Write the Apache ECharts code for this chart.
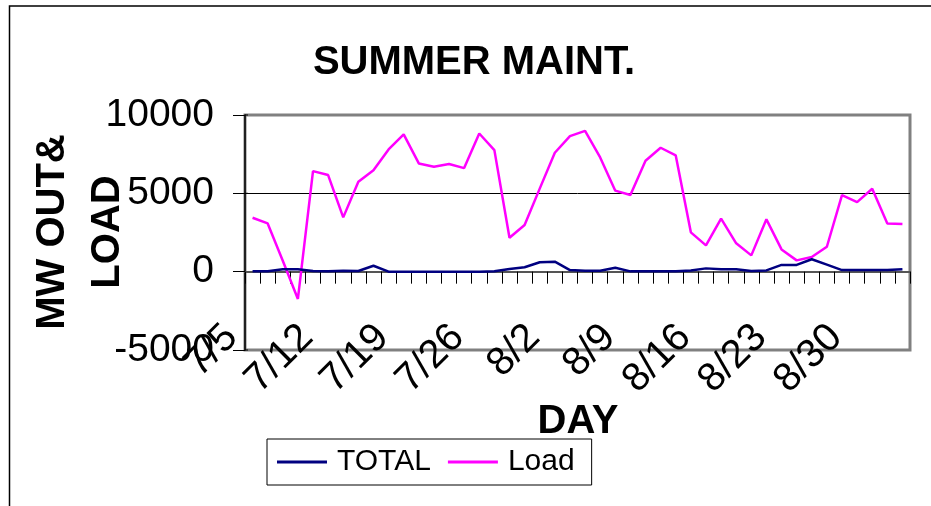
<!DOCTYPE html>
<html>
<head>
<meta charset="utf-8">
<script src="https://cdn.jsdelivr.net/npm/echarts@6/dist/echarts.min.js"></script>
<style>
  html, body { margin: 0; padding: 0; background: #fff; }
  #chart { width: 931px; height: 506px; }
</style>
</head>
<body>
<div id="chart"></div>
<script>
// weekdays, 7/5 .. 9/2
var days = [
  '7/5', '7/6', '7/7', '7/8', '7/9',
  '7/12', '7/13', '7/14', '7/15', '7/16',
  '7/19', '7/20', '7/21', '7/22', '7/23',
  '7/26', '7/27', '7/28', '7/29', '7/30',
  '8/2', '8/3', '8/4', '8/5', '8/6',
  '8/9', '8/10', '8/11', '8/12', '8/13',
  '8/16', '8/17', '8/18', '8/19', '8/20',
  '8/23', '8/24', '8/25', '8/26', '8/27',
  '8/30', '8/31', '9/1', '9/2'
];

var total = [
  20, 20, 150, 150, 40, 20, 60, 40, 380, 0,
  0, 0, 0, 0, 0, 0, 20, 170, 280, 600,
  640, 100, 60, 60, 250, 20, 20, 20, 20, 80,
  210, 150, 150, 40, 80, 430, 430, 790, 450, 100,
  100, 100, 100, 150
];

var load = [
  3440, 3080, 700, -1740, 6420, 6165, 3465, 5740, 6480, 7800,
  8760, 6910, 6700, 6870, 6610, 8820, 7760, 2170, 2980, 5300,
  7590, 8650, 8990, 7290, 5170, 4890, 7080, 7910, 7420, 2510,
  1680, 3380, 1810, 1040, 3340, 1420, 720, 935, 1590, 4890,
  4440, 5290, 3080, 3040
];

var yTicks = { min: -5000, max: 10000, step: 5000 };

var chart = echarts.init(document.getElementById('chart'));

var option = {
  animation: false,
  backgroundColor: '#fff',
  textStyle: { fontFamily: 'Liberation Sans, Arial, sans-serif' },
  graphic: [
    {
      type: 'rect', silent: true, z: 0,
      shape: { x: 9.5, y: 6, width: 1000, height: 600 },
      style: { fill: 'none', stroke: '#000', lineWidth: 1.5 }
    },
    {
      type: 'text', x: 474, y: 63,
      style: {
        text: 'SUMMER MAINT.', fill: '#000',
        font: 'bold 40px "Liberation Sans", Arial, sans-serif',
        align: 'center', verticalAlign: 'middle'
      }
    },
    {
      type: 'text', x: 80.5, y: 232, rotation: Math.PI / 2,
      style: {
        text: 'MW OUT&\nLOAD', fill: '#000', lineHeight: 55,
        font: 'bold 40px "Liberation Sans", Arial, sans-serif',
        align: 'center', verticalAlign: 'middle'
      }
    },
    {
      type: 'text', x: 578, y: 422,
      style: {
        text: 'DAY', fill: '#000',
        font: 'bold 40px "Liberation Sans", Arial, sans-serif',
        align: 'center', verticalAlign: 'middle'
      }
    },
    // y ticks in Excel cross the axis: the inner half
    {
      type: 'group',
      children: [115, 193.3, 271.7, 350].map(function (yy) {
        return {
          type: 'line', silent: true,
          shape: { x1: 245, y1: yy, x2: 248, y2: yy },
          style: { stroke: '#000', lineWidth: 1 }
        };
      })
    }
  ],
  legend: {
    left: 267, top: 439,
    orient: 'horizontal',
    icon: 'rect',
    itemWidth: 50,
    itemHeight: 3,
    itemGap: 17,
    padding: [8, 17, 8, 10],
    borderColor: '#000',
    borderWidth: 1,
    textStyle: { fontSize: 30, color: '#000', padding: [0, 0, 0, 5] },
    data: ['TOTAL', 'Load']
  },
  grid: {
    left: 245, right: 21, top: 115, bottom: 156,
    show: true,
    borderColor: '#808080',
    borderWidth: 3
  },
  xAxis: {
    type: 'category',
    data: days,
    boundaryGap: true,
    axisLine: { onZero: true, lineStyle: { color: '#555', width: 2 } },
    axisTick: { show: true, interval: 0, length: 12, lineStyle: { color: '#000', width: 1 } },
    axisLabel: {
      interval: 4, rotate: 45, margin: -40,
      fontSize: 40, color: '#000',
      padding: [0, 30, 0, 0]
    },
    splitLine: { show: false }
  },
  yAxis: {
    type: 'value',
    min: yTicks.min, max: yTicks.max, interval: yTicks.step,
    axisLine: { show: true, onZero: false, lineStyle: { color: '#000', width: 1.5 } },
    axisTick: { show: true, length: 12, lineStyle: { color: '#000', width: 1 } },
    axisLabel: {
      fontSize: 39, color: '#000', margin: 31,
      formatter: function (v) { return String(v); }
    },
    splitLine: {
      show: true, showMinLine: false, showMaxLine: false,
      lineStyle: { color: '#000', width: 1 }
    }
  },
  series: [
    {
      name: 'TOTAL', type: 'line', data: total,
      symbol: 'none', z: 3,
      lineStyle: { color: '#000080', width: 2.5 },
      itemStyle: { color: '#000080' }
    },
    {
      name: 'Load', type: 'line', data: load,
      symbol: 'none', z: 2,
      lineStyle: { color: '#ff00ff', width: 2.5 },
      itemStyle: { color: '#ff00ff' }
    }
  ]
};

chart.setOption(option);
</script>
</body>
</html>
